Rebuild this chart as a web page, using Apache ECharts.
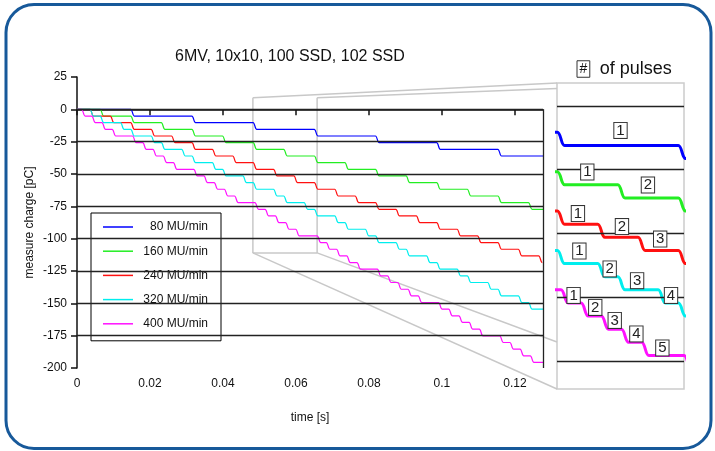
<!DOCTYPE html>
<html><head><meta charset="utf-8">
<script src="https://cdn.jsdelivr.net/npm/echarts@6/dist/echarts.min.js"></script>
<style>html,body{margin:0;padding:0;background:#fff}#c{width:715px;height:451px}</style>
</head><body><div id="c"></div>
<script>
// ---------- data ----------
const seriesNames  = ['80 MU/min', '160 MU/min', '240 MU/min', '320 MU/min', '400 MU/min'];
const seriesColors = ['#0000ff', '#22ee22', '#ff1010', '#00eeee', '#ff10ff'];

// times (s) at which each pulse arrives
const steps80  = [0.01521, 0.03198, 0.04875, 0.06552, 0.08229, 0.09906, 0.11583];
const steps160 = [0.00682, 0.01521, 0.02359, 0.03198, 0.04036, 0.04875, 0.05713, 0.06552,
                  0.07390, 0.08229, 0.09067, 0.09906, 0.10744, 0.11583, 0.12421];
const steps240 = [0.00403, 0.00962, 0.01521, 0.02080, 0.02639, 0.03198, 0.03757, 0.04316,
                  0.04875, 0.05434, 0.05993, 0.06552, 0.07111, 0.07670, 0.08229, 0.08788,
                  0.09347, 0.09906, 0.10465, 0.11024, 0.11583, 0.12142, 0.12701];
const steps320 = [0.00403, 0.00682, 0.01241, 0.01521, 0.02080, 0.02359, 0.02918, 0.03198,
                  0.03757, 0.04036, 0.04595, 0.04875, 0.05434, 0.05713, 0.06272, 0.06552,
                  0.07111, 0.07390, 0.07949, 0.08229, 0.08788, 0.09067, 0.09626, 0.09906,
                  0.10465, 0.10744, 0.11303, 0.11583, 0.12142, 0.12421];
const steps400 = [0.00173, 0.00453, 0.00732, 0.01012, 0.01571, 0.01850, 0.02130, 0.02409,
                  0.02689, 0.03248, 0.03527, 0.03807, 0.04086, 0.04366, 0.04925, 0.05204,
                  0.05484, 0.05763, 0.06043, 0.06630, 0.06881, 0.07161, 0.07440, 0.07720,
                  0.08279, 0.08558, 0.08838, 0.09117, 0.09397, 0.09956, 0.10235, 0.10515,
                  0.10794, 0.11074, 0.11633, 0.11912, 0.12192, 0.12471];
// accumulated charge (pC) after the 1st, 2nd, ... pulse
const pulseCharge = [-5.2, -10.3, -15.5, -20.6, -25.8, -30.9, -36.1, -41.2, -46.4, -51.5,
                     -56.7, -61.8, -67.0, -72.1, -77.3, -82.4, -87.6, -92.7, -97.9, -103.0,
                     -108.2, -113.3, -118.5, -123.6, -128.8, -133.9, -139.1, -144.2, -149.4, -154.5,
                     -159.7, -164.8, -170.0, -175.1, -180.3, -185.4, -190.6, -195.7];

const xTicks = [0, 0.02, 0.04, 0.06, 0.08, 0.1, 0.12];
const gridLevels = [0, -25, -50, -75, -100, -125, -150, -175];
const insetGridLevels = [0, -25, -50, -75, -100];
const X_MAX = 0.1277, Y_MIN = -200, Y_MAX = 25, Y_STEP = 25;
const ZOOM_X = [0.0482, 0.0658], ZOOM_Y = [-111, 9];

// boxed pulse-count labels in the zoom panel: [time, charge, text]
const labels80  = [[0.0570, -9.6, '1']];
const labels160 = [[0.0524, -25.9, '1'], [0.0608, -31.0, '2']];
const labels240 = [[0.0511, -42.2, '1'], [0.0572, -47.3, '2'], [0.0625, -52.2, '3']];
const labels320 = [[0.0513, -56.9, '1'], [0.0555, -63.9, '2'], [0.0593, -68.5, '3'], [0.0640, -74.3, '4']];
const labels400 = [[0.0505, -74.3, '1'], [0.0535, -79.0, '2'], [0.0562, -84.1, '3'], [0.0592, -89.4, '4'], [0.0628, -94.9, '5']];

// ---------- build ----------
const FONT = 'Liberation Sans, Arial, Helvetica, sans-serif';
const HW = 0.0005;
const allSteps = [steps80, steps160, steps240, steps320, steps400];
const allLabels = [labels80, labels160, labels240, labels320, labels400];

function stepData(times) {
  const pts = [[0, 0]];
  let prev = 0;
  times.forEach((t, i) => {
    const lv = pulseCharge[i];
    pts.push([t - HW, prev], [t + HW, lv]);
    prev = lv;
  });
  pts.push([X_MAX, prev]);
  return pts;
}

const series = [];
allSteps.forEach((st, i) => {
  const data = stepData(st);
  const main = {
    name: seriesNames[i], type: 'line', xAxisIndex: 0, yAxisIndex: 0,
    data, symbol: 'none', smooth: 0.5, smoothMonotone: 'x',
    color: seriesColors[i], lineStyle: {width: 1.2, color: seriesColors[i]},
    silent: true, animation: false
  };
  const inset = {
    name: seriesNames[i], type: 'line', xAxisIndex: 1, yAxisIndex: 1,
    data, symbol: 'none', smooth: 0.5, smoothMonotone: 'x',
    color: seriesColors[i], lineStyle: {width: 3, color: seriesColors[i]},
    silent: true, animation: false,
    markPoint: {
      symbol: 'rect', symbolSize: 0, silent: true, animation: false,
      label: {show: true, position: 'inside', formatter: p => p.name, color: '#222', fontSize: 15,
              fontFamily: FONT, backgroundColor: '#fff', borderColor: '#333', borderWidth: 1,
              padding: [0, 2, 0, 2], lineHeight: 15},
      data: allLabels[i].map(l => ({name: l[2], coord: [l[0], l[1]]}))
    }
  };
  if (i === 0) {
    main.markLine = {
      symbol: ['none', 'none'], silent: true, animation: false, label: {show: false},
      lineStyle: {color: '#222', width: 1.3, type: 'solid'},
      data: gridLevels.map(v => ({yAxis: v})).concat([[{coord: [X_MAX, 0]}, {coord: [X_MAX, Y_MIN]}]])
    };
    inset.markLine = {
      symbol: ['none', 'none'], silent: true, animation: false, label: {show: false},
      lineStyle: {color: '#222', width: 1.3, type: 'solid'},
      data: insetGridLevels.map(v => ({yAxis: v}))
    };
  }
  series.push(main, inset);
});

const chart = echarts.init(document.getElementById('c'), null, {renderer: 'canvas'});
chart.setOption({
  animation: false,
  backgroundColor: '#fff',
  textStyle: {fontFamily: FONT, color: '#111'},
  title: [
    {text: '6MV, 10x10, 100 SSD, 102 SSD', left: 175, top: 49, padding: 0,
     textStyle: {fontSize: 16, fontWeight: 'normal', color: '#111', fontFamily: FONT}},
    {text: '{b|#}  {t|of pulses}', left: 577, top: 60, padding: 0,
     textStyle: {fontSize: 18, fontWeight: 'normal', color: '#111', fontFamily: FONT,
       rich: {
         b: {fontSize: 14, fontFamily: FONT, color: '#111', borderColor: '#333', borderWidth: 1, padding: [1.5, 2.5, 1, 2.5], lineHeight: 14},
         t: {fontSize: 18, fontFamily: FONT, color: '#111'}
       }}}
  ],
  legend: {
    data: seriesNames, left: 91, top: 213, orient: 'vertical',
    padding: [8, 13, 11, 12], itemGap: 12.2, itemWidth: 30, itemHeight: 1.5, icon: 'rect',
    backgroundColor: '#fff', borderColor: '#000', borderWidth: 1, selectedMode: false,
    formatter: n => '{r|' + n + '}',
    textStyle: {rich: {r: {width: 70, align: 'right', fontSize: 12, color: '#111', fontFamily: FONT, lineHeight: 12}}}
  },
  grid: [
    {left: 77, top: 77, width: 466, height: 291},
    {left: 557, top: 83, width: 127, height: 306, show: true, backgroundColor: '#fff',
     borderColor: '#cccccc', borderWidth: 1.5}
  ],
  xAxis: [
    {type: 'value', gridIndex: 0, min: 0, max: X_MAX,
     name: 'time [s]', nameLocation: 'middle', nameGap: 44, nameMoveOverlap: false,
     nameTextStyle: {fontSize: 12, color: '#111', fontFamily: FONT},
     axisLine: {lineStyle: {color: '#111', width: 1.5}},
     axisTick: {customValues: xTicks, length: 6, lineStyle: {color: '#111', width: 1.5}},
     axisLabel: {customValues: xTicks, formatter: v => String(v), fontSize: 12, color: '#111', margin: 10, fontFamily: FONT},
     splitLine: {show: false}},
    {type: 'value', gridIndex: 1, min: ZOOM_X[0], max: ZOOM_X[1], show: false, splitLine: {show: false}}
  ],
  yAxis: [
    {type: 'value', gridIndex: 0, min: Y_MIN, max: Y_MAX, interval: Y_STEP,
     name: 'measure charge [pC]', nameLocation: 'middle', nameGap: 41, nameMoveOverlap: false,
     nameTextStyle: {fontSize: 12, color: '#111', fontFamily: FONT},
     axisLine: {show: true, lineStyle: {color: '#111', width: 1.5}},
     axisTick: {show: true, length: 6, lineStyle: {color: '#111', width: 1.5}},
     axisLabel: {fontSize: 12, color: '#111', margin: 10, fontFamily: FONT},
     splitLine: {show: false}},
    {type: 'value', gridIndex: 1, min: ZOOM_Y[0], max: ZOOM_Y[1], show: false, splitLine: {show: false}}
  ],
  series
});

// zoom-box outline and connecting lines
const px = (g, x, y) => chart.convertToPixel({gridIndex: g}, [x, y]);
const tl = px(0, ZOOM_X[0], ZOOM_Y[1]), tr = px(0, ZOOM_X[1], ZOOM_Y[1]);
const bl = px(0, ZOOM_X[0], ZOOM_Y[0]), br = px(0, ZOOM_X[1], ZOOM_Y[0]);
const itl = px(1, ZOOM_X[0], ZOOM_Y[1]), ibl = px(1, ZOOM_X[0], ZOOM_Y[0]);
const gray = {stroke: '#c8c8c8', lineWidth: 1.5, fill: 'none'};
const seg = (a, b) => ({type: 'line', shape: {x1: a[0], y1: a[1], x2: b[0], y2: b[1]}, style: gray, silent: true, z: 0});
chart.setOption({
  graphic: [
    {type: 'rect', shape: {x: 6, y: 4.5, width: 705, height: 444, r: 28},
     style: {fill: 'none', stroke: '#17599a', lineWidth: 3}, silent: true, z: 0},
    seg(tl, bl), seg(tr, br), seg(bl, br),
    seg(tl, itl), seg(tr, [itl[0], itl[1] + 5.5]),
    seg(br, [ibl[0], ibl[1] - 47]), seg(bl, ibl)
  ]
});
</script></body></html>
